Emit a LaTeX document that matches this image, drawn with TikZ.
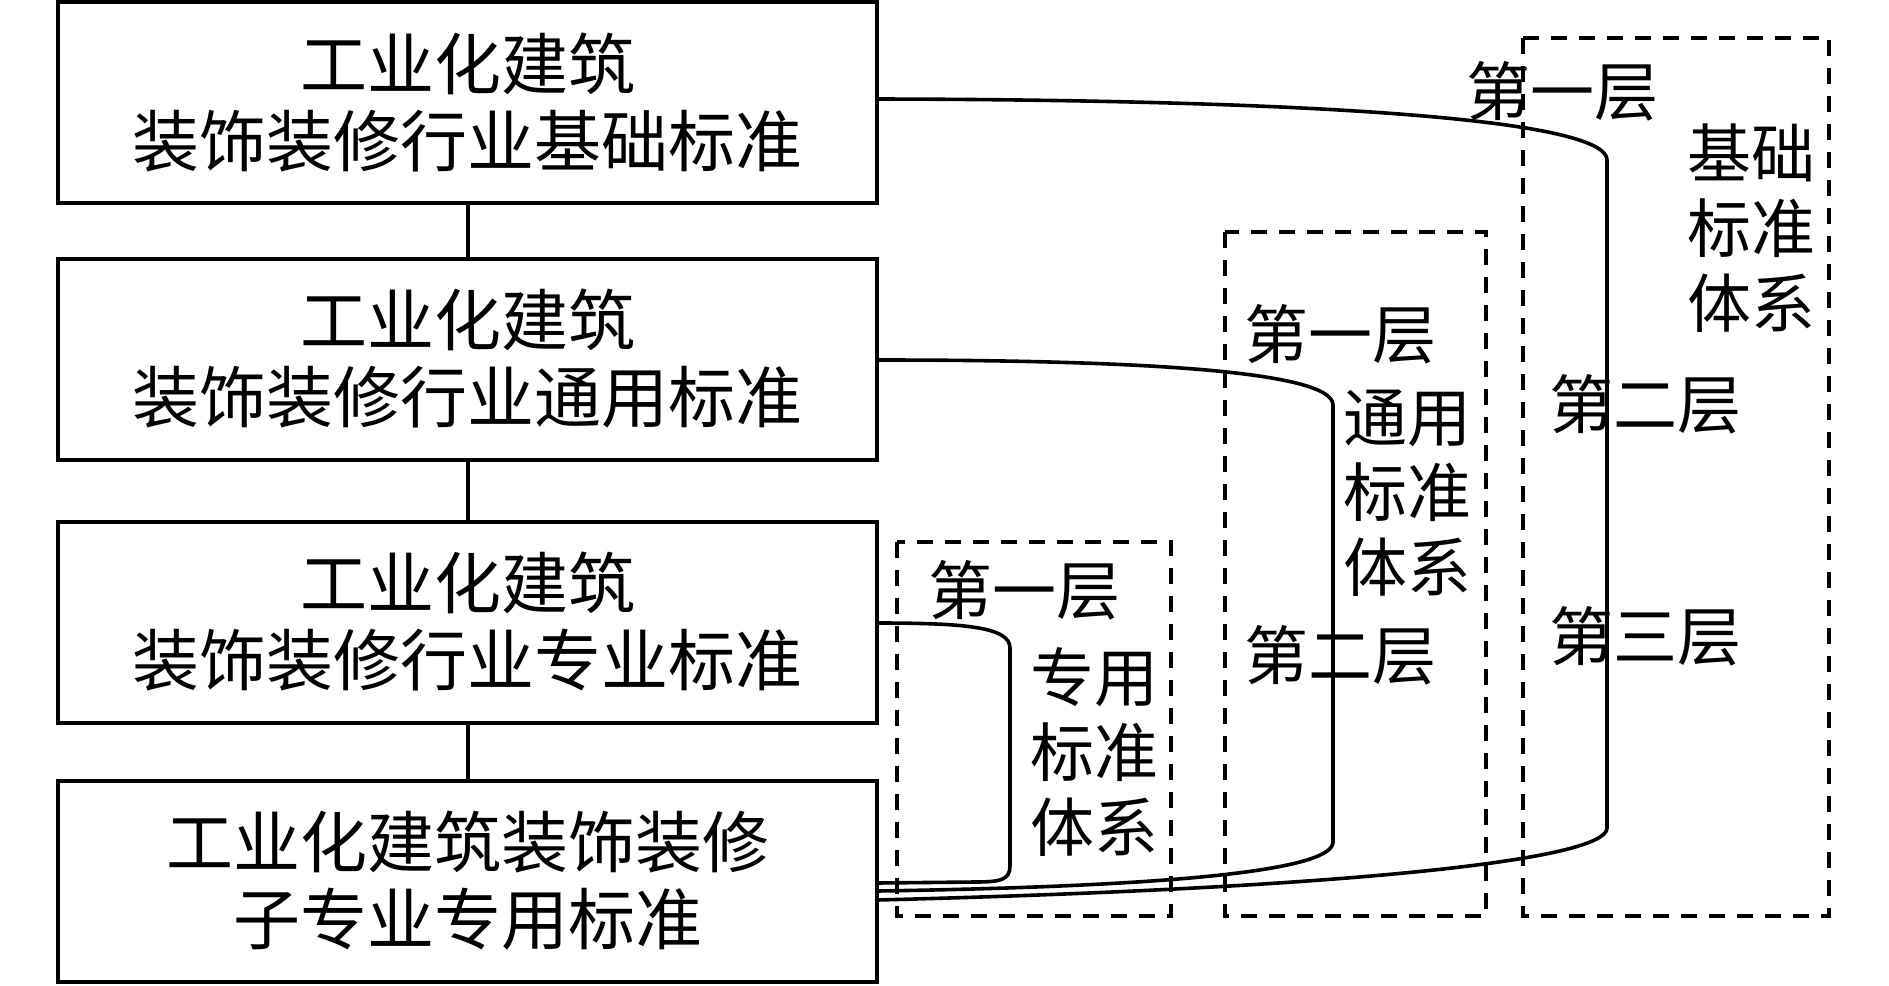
\documentclass[tikz,border=0pt]{standalone}
\usepackage{fontspec}
\newfontfamily\cjk{Noto Sans CJK SC}
\begin{document}
\begin{tikzpicture}[x=0.5pt,y=-0.5pt,
  box/.style={draw,line width=2pt,minimum width=409.5pt,minimum height=100.5pt,inner sep=0pt,outer sep=0pt,align=center,font=\cjk\fontsize{33.5}{38.5}\selectfont},
  link/.style={line width=2pt},
  curve/.style={line width=1.8pt},
  group/.style={line width=2.2pt,dash pattern=on 8pt off 6pt},
  lab/.style={inner sep=0pt,align=center,font=\cjk\fontsize{32}{37.5}\selectfont}]
\useasboundingbox (0,0) rectangle (1889,985);

% main boxes
\node[box] (b1) at (467.5,102.5) {工业化建筑\\装饰装修行业基础标准};
\node[box] (b2) at (467.5,359) {工业化建筑\\装饰装修行业通用标准};
\node[box] (b3) at (467.5,622) {工业化建筑\\装饰装修行业专业标准};
\node[box] (b4) at (467.5,881) {工业化建筑装饰装修\\子专业专用标准};

\draw[link] (b1.south) -- (b2.north);
\draw[link] (b2.south) -- (b3.north);
\draw[link] (b3.south) -- (b4.north);

% dashed groups
\draw[group] (1523,38) rectangle (1829,916);
\draw[group] (1225,232) rectangle (1486,916);
\draw[group] (897,542) rectangle (1171,916);

% curves
\draw[curve] ([yshift=1.75pt]b1.east) .. controls (1350,100) and (1607,122) .. (1607,160)
  -- (1607,828) .. controls (1607,860) and (1350,888) .. ([yshift=-9.5pt]b4.east);
\draw[curve] ([yshift=-0.5pt]b2.east) .. controls (1150,360) and (1333,372) .. (1333,405)
  -- (1333,842) .. controls (1333,868) and (1200,886) .. ([yshift=-5pt]b4.east);
\draw[curve] ([yshift=-0.5pt]b3.east) .. controls (965,623) and (1010,627) .. (1010,648)
  -- (1010,866) .. controls (1010,880) and (1000,882) .. (975,882) -- ([yshift=-1pt]b4.east);

% labels: basic
\node[lab] (a1) at (1562,91) {第一层};
\node[lab] (a0) at (1751,228) {基础\\标准\\体系};
\node[lab] (a2) at (1645,404) {第二层};
\node[lab] (a3) at (1645,636) {第三层};
% labels: general
\node[lab] (g1) at (1340,334) {第一层};
\node[lab] (g0) at (1407,493) {通用\\标准\\体系};
\node[lab] (g2) at (1340,655) {第二层};
% labels: special
\node[lab] (s1) at (1024,590) {第一层};
\node[lab] (s0) at (1094,752) {专用\\标准\\体系};
\end{tikzpicture}
\end{document}
